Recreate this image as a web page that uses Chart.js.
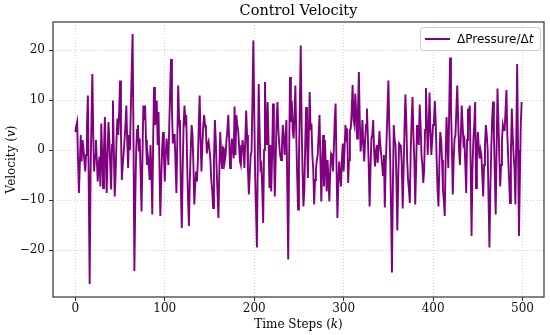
<!DOCTYPE html>
<html><head><meta charset="utf-8">
<script src="https://cdn.jsdelivr.net/npm/chart.js@4.4.1/dist/chart.umd.min.js"></script>
<style>html,body{margin:0;padding:0;background:#fff}</style>
</head><body>
<canvas id="c" width="550" height="335" style="width:550px;height:335px;display:block"></canvas>
<script>
// ---- data ----
const velocity = [
  3.6, 4.8, 5.6, -2, -8.6, -3, 3.0, -2.3, 2.0, 0.5,
  -2, -4.3, -1, 5, 10.9, -8, -26.8, -5, 6, 15.2,
  3, -4.3, -1, 2.0, -2, -6.3, -3, -1.3, -7.3, 5.3,
  -1, -7.6, 0, 6.6, -2, -8.6, -1, 5.6, 2, -3,
  -7.9, 1, 9.9, 0, -9.3, -5, 2, 6.3, 3, 8,
  13.9, 3, -6, -3, -0.7, 2, 5, 8.9, 1.7, -3.6,
  3, 0, 8, 16, 23.2, 2, -24.2, -10, 0, 4,
  5, -0.3, 2.3, -5, -12.3, -2, 8.9, 6, 8.9, 2,
  -3, -1, -2.5, -6, 1, -4, -12.9, 2, 12.6, 5,
  6, 9.9, 1, 7.6, -3, -13.2, -6, 0, 3.6, -1,
  -6.3, -1, 2.3, 0, -3, 5, 12, 18.2, 8, 1.3,
  3, 3, -3, -8.6, 2, 12.9, 6, 4, -8, -15.6,
  -4, 5, 8.9, 6, 7, -3, -10, -15.2, -6, 0,
  5, 3, -3, -10.9, -7, -4.3, -6.3, -2, 5, 10.9,
  2, -4.3, 1, 5, 7, 5, 4, -0.7, 1, 1.7,
  0, -2, -6, -8, -11.6, -2, 6, 2, -4, -9,
  -13.6, -4, 3.6, -1, -3.6, 0.5, 0.3, -2.3, -1, 2,
  4, 7, 2, -3.6, -1, 2.3, 0, -1.7, 8.7, -1,
  7, 5, 4, 1, -2.3, -3, 0, 2, 0, -3.6,
  2, 7.9, 3, -4, -8.9, -5, -1, -0.3, 10, 21.9,
  8, -5, -12, -19.5, -2, 13.2, 4, -3.6, -3, -8,
  -14.6, 0, 13.6, 4, 1, 9.6, 2, -7.6, 1, -8.3,
  -1, 9.3, 1, -9.3, -2, 6, 9.6, 4, 1, -1,
  -2, 1, 5, 2, -1, 3, 6, -8, -21.9, -2,
  14.6, 5.6, 9.9, 4, 2.3, 7, 12.9, 3, -5, -11.9,
  -2, 9, 20.9, 5, -4, -11.3, -8, 1, 8.6, 2,
  -5.6, 3, 11.6, 4, 5.3, -1, -4, -10.9, -6, -4,
  -2, -1, 3, 7, -2, -10.3, -3, 3, -7.3, 2,
  -3, -8.3, -2, -6, -10.3, -4, -0.7, -1, -4.3, 0,
  6, 9.3, -3, -13.6, -7, -2.3, -5, -7.3, -2, 1.3,
  -4.3, 0, 5, 3, 4.3, -6.6, -2, 4, 4.3, 8,
  13, 6, 5, 11.3, 7.3, 2.3, 8, 15.6, 6, -0.3,
  2, 6, 1, -2.3, 2, 5, 8.3, 3, -3, -11.3,
  -4, 2.3, 3, 6, 0, -3.3, -0.5, 1, -2.6, 0,
  3.8, 1, -1, -3, -5, -1, -11.5, -3, 2, 8,
  13.9, 5, -1.7, -12, -24.5, -8, 5, 2, 1, -6,
  -16.1, -6, 1.3, 1, 0.5, -3, -11.7, -4, 4, 11.1,
  6, -2, -6, -8, -10.6, 0, 6, 10.6, 3, -2,
  -10.9, -4, 5, 3, 1, 9.1, 5, -1, -3, -6.6,
  -4, 4, 12.4, 6, -1, 4, 11.5, 4, -1, 2,
  5, 6, 9.8, 5, -2, -8, -11.3, -3, 3.6, 2,
  -2, -8, -10, -13.2, -2, 6.6, 2, -3.6, 8, 18.5,
  8, 1, -8.9, -2, 2.3, 3, 8, 12.9, 6, 0,
  -3, 3, 8.9, 5, 1.3, 2, -3, -8.6, 2, 8.3,
  7, 8.9, -3, -17.2, -4, 2, 5, 9.6, -7.6, -2,
  3.6, 1, -1.7, 0, -1, -5, -9.3, -3, 1, 5,
  3, 0, -10, -19.5, -8, 0, 6, 9.7, 3, -5,
  -12.9, 0, 12.3, 6, -1, -7.3, -3, 2, 5, 4,
  4, 8, 12, 3, -1.7, -6, -10.6, -1, 8.3, 3,
  -1, -3.6, -10.9, 2, 17.2, 0, -17.2, -6, 5, 9.6
];
const steps = velocity.map((_, i) => i);
const xTicks = [0, 100, 200, 300, 400, 500];
const yTicks = [-20, -10, 0, 10, 20];
const xRange = [-25, 524];
const yRange = [-29.4, 25.6];
const chartTitle = 'Control Velocity';
const seriesLabel = 'ΔPressure/Δ';
const seriesLabelItalic = 't';

// ---- styling ----
const SERIF = '"DejaVu Serif", "Liberation Serif", serif';
const SANS = '"DejaVu Sans", "Liberation Sans", sans-serif';
const LINE = '#800080';
const FRAME = '#333333';
const GRID = 'rgba(176,176,176,0.75)';

function fmt(v) { return v < 0 ? '\u2212' + Math.abs(v) : String(v); }

function drawMixed(ctx, parts, cx, cy, size, family) {
  let total = 0;
  const widths = parts.map(([t, st]) => {
    ctx.font = st + ' ' + size + 'px ' + family;
    const w = ctx.measureText(t).width; total += w; return w;
  });
  let x = cx - total / 2;
  ctx.textAlign = 'left'; ctx.textBaseline = 'middle';
  parts.forEach(([t, st], i) => {
    ctx.font = st + ' ' + size + 'px ' + family;
    ctx.fillText(t, x, cy); x += widths[i];
  });
}

const decor = {
  id: 'decor',
  afterDraw(chart) {
    const { ctx, chartArea: a } = chart;
    ctx.save();
    // frame
    ctx.strokeStyle = FRAME; ctx.lineWidth = 1.2;
    ctx.strokeRect(a.left, a.top, a.right - a.left, a.bottom - a.top);
    // title
    ctx.fillStyle = '#000';
    ctx.font = '14.5px ' + SERIF; ctx.textAlign = 'center'; ctx.textBaseline = 'middle';
    ctx.fillText(chartTitle, (a.left + a.right) / 2, 11);
    // x title
    drawMixed(ctx, [['Time Steps (', 'normal'], ['k', 'italic'], [')', 'normal']], (a.left + a.right) / 2, 325, 12, SERIF);
    // y title
    ctx.save();
    ctx.translate(12, (a.top + a.bottom) / 2);
    ctx.rotate(-Math.PI / 2);
    drawMixed(ctx, [['Velocity (', 'normal'], ['v', 'italic'], [')', 'normal']], 0, 0, 12, SERIF);
    ctx.restore();
    // legend
    const bx = a.right - 124, by = a.top + 5, bw = 120, bh = 23;
    ctx.beginPath();
    ctx.roundRect(bx + 0.5, by + 0.5, bw, bh, 3);
    ctx.fillStyle = 'rgba(255,255,255,0.8)'; ctx.fill();
    ctx.strokeStyle = '#cccccc'; ctx.lineWidth = 1; ctx.stroke();
    ctx.beginPath();
    ctx.moveTo(bx + 5, by + bh / 2 + 0.5); ctx.lineTo(bx + 30, by + bh / 2 + 0.5);
    ctx.strokeStyle = LINE; ctx.lineWidth = 2; ctx.stroke();
    ctx.fillStyle = '#000';
    ctx.font = '12px ' + SANS; ctx.textAlign = 'left'; ctx.textBaseline = 'middle';
    ctx.fillText(seriesLabel, bx + 37, by + bh / 2 + 1);
    const w = ctx.measureText(seriesLabel).width;
    ctx.font = 'italic 12px ' + SANS;
    ctx.fillText(seriesLabelItalic, bx + 37 + w, by + bh / 2 + 1);
    ctx.restore();
  }
};

new Chart(document.getElementById('c'), {
  type: 'line',
  data: {
    datasets: [{
      label: seriesLabel + seriesLabelItalic,
      data: steps.map((k, i) => ({ x: k, y: velocity[i] })),
      borderColor: LINE, borderWidth: 1.9, pointRadius: 0, tension: 0, fill: false
    }]
  },
  options: {
    responsive: false, animation: false, devicePixelRatio: 1,
    layout: { padding: { top: 22, right: 6, left: 0, bottom: 0 } },
    plugins: { legend: { display: false }, title: { display: false }, tooltip: { enabled: false } },
    scales: {
      x: {
        type: 'linear', min: xRange[0], max: xRange[1],
        afterBuildTicks: s => { s.ticks = xTicks.map(v => ({ value: v })); },
        afterFit: s => { s.height = 38; },
        grid: { color: GRID, lineWidth: 0.8, drawTicks: true, tickLength: 4, tickColor: FRAME, tickWidth: 1 },
        border: { display: false, dash: [1, 2] },
        ticks: { font: { family: SERIF, size: 12 }, color: '#111', padding: 1, maxRotation: 0, callback: v => fmt(v) }
      },
      y: {
        type: 'linear', min: yRange[0], max: yRange[1],
        afterBuildTicks: s => { s.ticks = yTicks.map(v => ({ value: v })); },
        afterFit: s => { s.width = 53; },
        grid: { color: GRID, lineWidth: 0.8, drawTicks: true, tickLength: 4, tickColor: FRAME, tickWidth: 1 },
        border: { display: false, dash: [1, 2] },
        ticks: { font: { family: SERIF, size: 12 }, color: '#111', padding: 4, callback: v => fmt(v) }
      }
    }
  },
  plugins: [decor]
});
</script>
</body></html>
